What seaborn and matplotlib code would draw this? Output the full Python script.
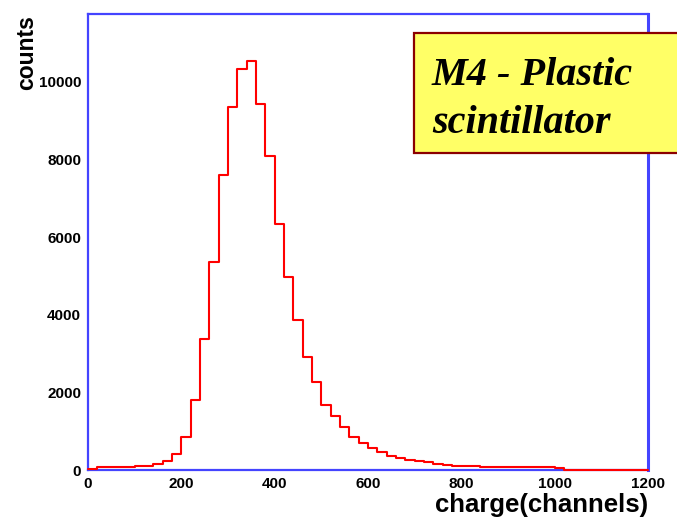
import numpy as np
import pandas as pd
import matplotlib
matplotlib.use("Agg")
import matplotlib.pyplot as plt
from matplotlib.ticker import MultipleLocator
from matplotlib.patches import Rectangle
import seaborn as sns

# ---- data ----
bin_width = 20
bin_edges = list(range(0, 1220, 20))
counts = [35, 75, 75, 75, 80, 110, 110, 150, 220, 410,
          840, 1810, 3370, 5350, 7600, 9360, 10330, 10550, 9420, 8080,
          6340, 4980, 3870, 2900, 2270, 1675, 1380, 1100, 850, 690,
          560, 470, 370, 315, 260, 240, 215, 155, 130, 112,
          103, 100, 70, 70, 70, 65, 70, 86, 70, 65,
          60, 0, 0, 0, 0, 0, 0, 0, 0, 0]
x_ticks = [0, 200, 400, 600, 800, 1000, 1200]
y_ticks = [0, 2000, 4000, 6000, 8000, 10000]
x_label = "charge(channels)"
y_label = "counts"
box_lines = ["M4 - Plastic", "scintillator"]

centers = [e + bin_width / 2 for e in bin_edges[:-1]]
df = pd.DataFrame({"charge": centers, "counts": counts})

sns.set_style("white")
plt.rcParams["font.family"] = ["Liberation Sans", "DejaVu Sans"]
plt.rcParams["text.color"] = "black"
plt.rcParams["axes.labelcolor"] = "black"

W, H = 677, 518
fig = plt.figure(figsize=(W / 100, H / 100), dpi=100)
ax = fig.add_axes([88 / W, 48 / H, 560 / W, 456 / H])

sns.histplot(data=df, x="charge", weights="counts", bins=bin_edges,
             element="step", fill=False, color="#ff0000", linewidth=1.5, ax=ax)
for ln in ax.lines:
    ln.set_clip_on(False)
    ln.set_zorder(3)

ax.set_xlim(0, 1200)
ax.set_ylim(0, 11750)
ax.set_xticks(x_ticks)
ax.set_yticks(y_ticks)
ax.xaxis.set_minor_locator(MultipleLocator(50))
ax.yaxis.set_minor_locator(MultipleLocator(500))

ax.tick_params(axis="both", which="both", direction="in", color="#888888",
               labelcolor="black", labelsize=11, width=0.8)
ax.tick_params(axis="x", which="major", length=5, pad=5)
ax.tick_params(axis="x", which="minor", length=2.5)
ax.tick_params(axis="y", which="major", length=8, pad=5)
ax.tick_params(axis="y", which="minor", length=3)
for lab in ax.get_xticklabels() + ax.get_yticklabels():
    lab.set_fontweight("bold")

for side, sp in ax.spines.items():
    sp.set_visible(True)
    sp.set_color("#4444ff")
    sp.set_linewidth(1.6)
ax.spines["right"].set_linewidth(2.2)

ax.set_xlabel(x_label, loc="right", fontsize=18.5, fontweight="bold", color="black")
ax.xaxis.set_label_coords(1.0, -0.05)
ax.set_ylabel(y_label, loc="top", fontsize=16.5, fontweight="bold", color="black")
ax.yaxis.set_label_coords(-0.089, 0.998)

# yellow label box
rect = Rectangle((414 / W, 1 - 153 / H), 300 / W, 120 / H, transform=fig.transFigure,
                 facecolor="#ffff66", edgecolor="#8b0000", linewidth=1.6,
                 zorder=5, clip_on=False)
fig.patches.append(rect)
fig.text(432 / W, 1 - 85 / H, box_lines[0], family=["Liberation Serif", "DejaVu Serif"],
         fontsize=29, fontweight="bold", fontstyle="italic", va="baseline", ha="left",
         color="black", zorder=6)
fig.text(432 / W, 1 - 133 / H, box_lines[1], family=["Liberation Serif", "DejaVu Serif"],
         fontsize=29, fontweight="bold", fontstyle="italic", va="baseline", ha="left",
         color="black", zorder=6)

fig.savefig("out.png", dpi=100)
